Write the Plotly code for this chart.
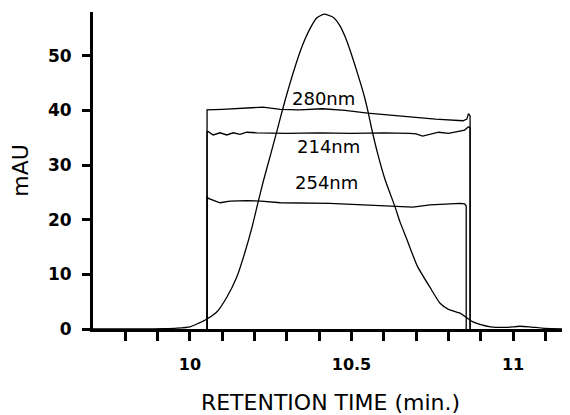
import plotly.graph_objects as go

# Peak (protein elution profile)
peak_t = [9.70, 9.85, 9.92, 9.96, 10.00, 10.046, 10.083, 10.115, 10.145, 10.17, 10.192, 10.21,
          10.226, 10.25, 10.27, 10.285, 10.30, 10.316, 10.34, 10.356, 10.372, 10.392, 10.415,
          10.444, 10.464, 10.48, 10.495, 10.52, 10.54, 10.551, 10.563, 10.58, 10.604, 10.635,
          10.65, 10.67, 10.703, 10.743, 10.774, 10.80, 10.836, 10.858, 10.876, 10.90, 10.93,
          10.98, 11.02, 11.05, 11.10, 11.17]
peak_v = [0, 0, 0.05, 0.15, 0.4, 1.6, 3.1, 5.9, 9.5, 14.0, 18.6, 23.0,
          26.8, 32.0, 36.4, 39.8, 43.0, 46.2, 50.6, 53.0, 55.0, 56.9, 57.6,
          57.0, 55.5, 53.5, 51.1, 46.5, 42.5, 39.8, 36.5, 32.3, 27.3, 22.3,
          19.6, 16.6, 11.6, 7.6, 4.7, 3.6, 2.9, 2.0, 1.3, 0.8, 0.4,
          0.3, 0.5, 0.4, 0.1, 0]

# 280 nm trace
t280 = [10.053, 10.053, 10.10, 10.15, 10.226, 10.28, 10.34, 10.41, 10.48, 10.55, 10.62,
        10.69, 10.76, 10.845, 10.857, 10.862, 10.867, 10.867]
v280 = [0, 40.1, 40.2, 40.4, 40.6, 40.2, 40.1, 40.3, 40.0, 39.5, 39.1,
        38.8, 38.4, 38.1, 38.4, 39.4, 39.0, 0]

# 214 nm trace
t214 = [10.053, 10.053, 10.057, 10.072, 10.093, 10.114, 10.134, 10.155, 10.176, 10.207,
        10.30, 10.40, 10.50, 10.60, 10.68, 10.70, 10.72, 10.745, 10.77, 10.80, 10.83,
        10.85, 10.862, 10.867, 10.867]
v214 = [0, 36.1, 36.1, 35.5, 35.9, 35.5, 35.9, 35.6, 36.0, 35.9,
        35.8, 35.9, 35.8, 35.9, 35.8, 35.7, 35.3, 35.7, 36.0, 35.8, 36.1,
        36.4, 37.0, 36.8, 0]

# 254 nm trace
t254 = [10.053, 10.053, 10.057, 10.072, 10.093, 10.124, 10.176, 10.22, 10.28, 10.433,
        10.64, 10.69, 10.743, 10.836, 10.85, 10.855, 10.855]
v254 = [0, 24.2, 23.9, 23.6, 23.1, 23.4, 23.5, 23.4, 23.1, 23.0,
        22.5, 22.3, 22.7, 23.0, 22.9, 22.5, 0]

labels = ["280nm", "214nm", "254nm"]
label_t = [10.412, 10.428, 10.423]
label_v = [42.1, 33.4, 26.8]

x_tickvals = [9.8, 9.9, 10.0, 10.1, 10.2, 10.3, 10.4, 10.5, 10.6, 10.7, 10.8, 10.9, 11.0, 11.1]
x_ticktext = ["", "", "10", "", "", "", "", "10.5", "", "", "", "", "11", ""]
y_tickvals = [0, 10, 20, 30, 40, 50]

FONT = "DejaVu Sans"
fig = go.Figure()
line = dict(color="black", width=1.3)
fig.add_trace(go.Scatter(x=peak_t, y=peak_v, mode="lines",
                         line=dict(color="black", width=1.3, shape="spline", smoothing=0.5)))
fig.add_trace(go.Scatter(x=t280, y=v280, mode="lines", line=line))
fig.add_trace(go.Scatter(x=t214, y=v214, mode="lines", line=line))
fig.add_trace(go.Scatter(x=t254, y=v254, mode="lines", line=line))

for txt, tx, ty in zip(labels, label_t, label_v):
    fig.add_annotation(x=tx, y=ty, text=txt, showarrow=False,
                       font=dict(family=FONT, size=18, color="black"))

# page body has an 8px default margin, so the figure is sized to fit the window
fig.update_layout(
    width=562, height=407,
    margin=dict(l=85, r=2, t=4, b=86),
    plot_bgcolor="white", paper_bgcolor="white",
    showlegend=False,
    font=dict(family=FONT, color="black"),
)
fig.update_xaxes(range=[9.70, 11.17], showgrid=False, zeroline=False,
                 showline=True, linecolor="black", linewidth=3,
                 tickmode="array", tickvals=x_tickvals, ticktext=x_ticktext,
                 ticks="outside", ticklen=9, tickwidth=3, tickcolor="black",
                 tickfont=dict(family=FONT, size=16, color="black", weight="bold"),
                 ticklabelstandoff=10,
                 title=dict(text="RETENTION TIME (min.)", standoff=22,
                            font=dict(family=FONT, size=22, color="black")))
fig.update_yaxes(range=[0, 58], showgrid=False, zeroline=False,
                 showline=True, linecolor="black", linewidth=3,
                 tickmode="array", tickvals=y_tickvals,
                 ticks="outside", ticklen=8, tickwidth=3, tickcolor="black",
                 tickfont=dict(family=FONT, size=17, color="black", weight="bold"),
                 ticklabelstandoff=7,
                 title=dict(text="mAU", standoff=20,
                            font=dict(family=FONT, size=22, color="black")))

fig.write_html("out.html")
